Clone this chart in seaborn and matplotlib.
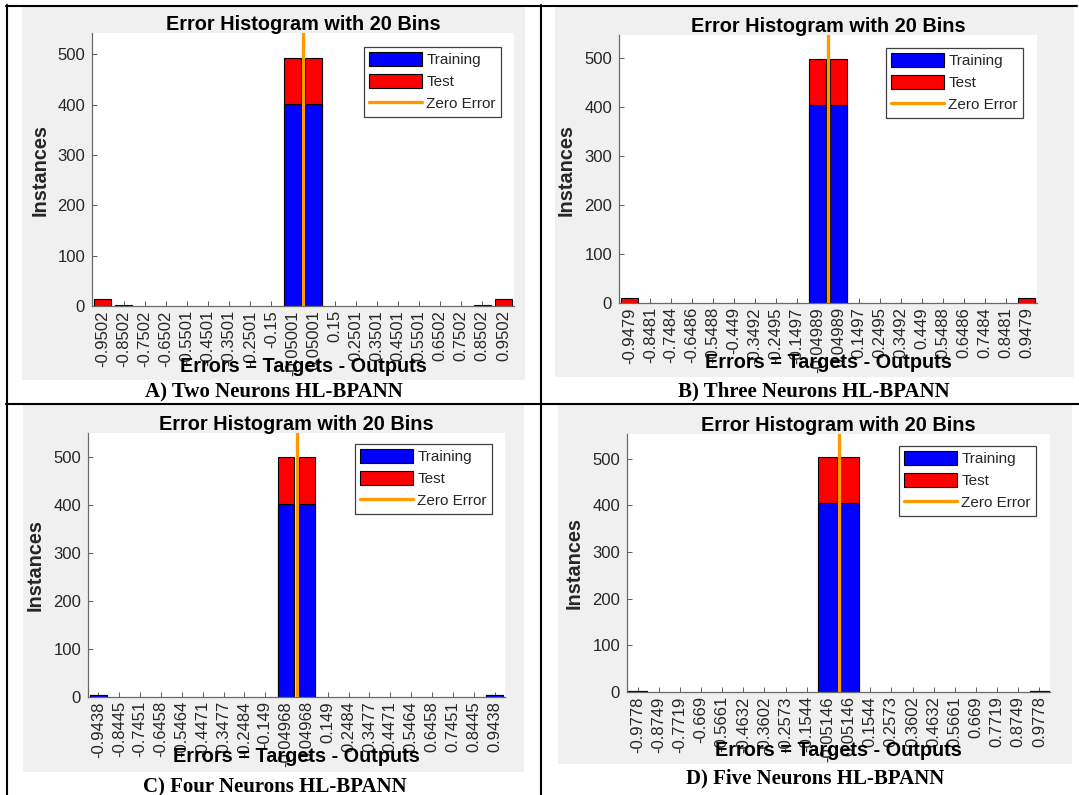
import numpy as np
import pandas as pd
import matplotlib
matplotlib.use("Agg")
import matplotlib.pyplot as plt
import seaborn as sns
from matplotlib.patches import Rectangle, Patch
from matplotlib.lines import Line2D

# ---------------- data ----------------
labels_a = ["-0.9502", "-0.8502", "-0.7502", "-0.6502", "-0.5501", "-0.4501", "-0.3501",
            "-0.2501", "-0.15", "-0.05001", "0.05001", "0.15", "0.2501", "0.3501", "0.4501",
            "0.5501", "0.6502", "0.7502", "0.8502", "0.9502"]
train_a = [0, 0, 0, 0, 0, 0, 0, 0, 0, 402, 402, 0, 0, 0, 0, 0, 0, 0, 0, 0]
test_a = [14, 2, 0, 0, 0, 0, 0, 0, 0, 90, 90, 0, 0, 0, 0, 0, 0, 0, 2, 14]

labels_b = ["-0.9479", "-0.8481", "-0.7484", "-0.6486", "-0.5488", "-0.449", "-0.3492",
            "-0.2495", "-0.1497", "-0.04989", "0.04989", "0.1497", "0.2495", "0.3492", "0.449",
            "0.5488", "0.6486", "0.7484", "0.8481", "0.9479"]
train_b = [0, 0, 0, 0, 0, 0, 0, 0, 0, 404, 404, 0, 0, 0, 0, 0, 0, 0, 0, 0]
test_b = [11, 0, 0, 0, 0, 0, 0, 0, 0, 93, 93, 0, 0, 0, 0, 0, 0, 0, 0, 11]

labels_c = ["-0.9438", "-0.8445", "-0.7451", "-0.6458", "-0.5464", "-0.4471", "-0.3477",
            "-0.2484", "-0.149", "-0.04968", "0.04968", "0.149", "0.2484", "0.3477", "0.4471",
            "0.5464", "0.6458", "0.7451", "0.8445", "0.9438"]
train_c = [5, 0, 0, 0, 0, 0, 0, 0, 0, 403, 403, 0, 0, 0, 0, 0, 0, 0, 0, 5]
test_c = [0, 0, 0, 0, 0, 0, 0, 0, 0, 98, 98, 0, 0, 0, 0, 0, 0, 0, 0, 0]

labels_d = ["-0.9778", "-0.8749", "-0.7719", "-0.669", "-0.5661", "-0.4632", "-0.3602",
            "-0.2573", "-0.1544", "-0.05146", "0.05146", "0.1544", "0.2573", "0.3602", "0.4632",
            "0.5661", "0.669", "0.7719", "0.8749", "0.9778"]
train_d = [2, 0, 0, 0, 0, 0, 0, 0, 0, 405, 405, 0, 0, 0, 0, 0, 0, 0, 0, 2]
test_d = [0, 0, 0, 0, 0, 0, 0, 0, 0, 99, 99, 0, 0, 0, 0, 0, 0, 0, 0, 0]

captions = ["A) Two Neurons HL-BPANN", "B) Three Neurons HL-BPANN",
            "C) Four Neurons HL-BPANN", "D) Five Neurons HL-BPANN"]
title_text = "Error Histogram with 20 Bins"
xlabel_text = "Errors = Targets - Outputs"
ylabel_text = "Instances"
legend_labels = ["Training", "Test", "Zero Error"]
y_ticks = [0, 100, 200, 300, 400, 500]

# ---------------- layout (pixels) ----------------
W, H = 1079, 795
layout = [
    dict(grey=(22, 6, 525, 380), ax=(92, 33, 514, 306), title=(303, 19), xlabel=(303, 367),
         ylabel=(40, 170), legend=(501, 47), caption=(274, 392), ytop=542, width=0.8),
    dict(grey=(555, 6, 1074, 377), ax=(619, 35, 1037, 303), title=(828, 22), xlabel=(828, 363),
         ylabel=(566, 170), legend=(1023, 48), caption=(814, 391), ytop=547, width=0.8),
    dict(grey=(23, 405, 524, 772), ax=(88, 433, 505, 697), title=(296, 419), xlabel=(296, 757),
         ylabel=(35, 565), legend=(492, 444), caption=(275, 787), ytop=550, width=0.8),
    dict(grey=(558, 405, 1072, 764), ax=(627, 434, 1050, 692), title=(838, 419), xlabel=(838, 750),
         ylabel=(574, 563), legend=(1036, 446), caption=(815, 778), ytop=553, width=0.9),
]
datasets = [(labels_a, train_a, test_a), (labels_b, train_b, test_b),
            (labels_c, train_c, test_c), (labels_d, train_d, test_d)]

sns.set_style("white")
plt.rcParams["font.family"] = ["Liberation Sans", "DejaVu Sans"]

fig = plt.figure(figsize=(W / 100, H / 100), dpi=100)
fig.patch.set_facecolor("white")


def fx(x):
    return x / W


def fy(y):
    return 1 - y / H


ORANGE = "#ff9900"
TXT = "#262626"

for lay, (labels, train, test), cap in zip(layout, datasets, captions):
    gx0, gy0, gx1, gy1 = lay["grey"]
    fig.add_artist(Rectangle((fx(gx0), fy(gy1)), (gx1 - gx0) / W, (gy1 - gy0) / H,
                             transform=fig.transFigure, facecolor="#f0f0f0",
                             edgecolor="none", zorder=-5))
    l, t, r, b = lay["ax"]
    ax = fig.add_axes([fx(l), fy(b), (r - l) / W, (b - t) / H])
    ax.set_facecolor("white")

    df = pd.DataFrame({"bin": labels, "Training": train, "Test": test})
    df["Total"] = df["Training"] + df["Test"]
    tot = df[df["Total"] > 0]
    trn = df[df["Training"] > 0]
    sns.barplot(data=tot, x="bin", y="Total", order=labels, color="red", saturation=1,
                edgecolor="black", linewidth=0.8, width=lay["width"], errorbar=None, ax=ax)
    sns.barplot(data=trn, x="bin", y="Training", order=labels, color="blue", saturation=1,
                edgecolor="black", linewidth=0.8, width=lay["width"], errorbar=None, ax=ax)

    centers = np.array([float(s) for s in labels])
    zero_pos = np.interp(0.0, centers, np.arange(len(labels)))
    ax.axvline(zero_pos, color=ORANGE, lw=2.4, zorder=5)

    ax.set_xlim(-0.5, len(labels) - 0.5)
    ax.set_ylim(0, lay["ytop"])
    ax.set_xticks(range(len(labels)))
    ax.set_xticklabels(labels, rotation=90)
    ax.set_yticks(y_ticks)
    ax.set_yticklabels([str(v) for v in y_ticks])
    ax.tick_params(axis="both", direction="in", length=3.5, width=0.6, color="#404040",
                   labelcolor=TXT, labelsize=12)
    ax.tick_params(axis="x", pad=3)
    ax.tick_params(axis="y", pad=5, left=True)
    ax.tick_params(axis="x", bottom=True)
    for s in ["top", "right"]:
        ax.spines[s].set_visible(False)
    for s in ["left", "bottom"]:
        ax.spines[s].set_color("#6a6a6a")
        ax.spines[s].set_linewidth(0.9)

    aw, ah = r - l, b - t
    tx, ty = lay["title"]
    ax.set_title(title_text, fontsize=14.3, fontweight="bold", color="black", va="center")
    ax.title.set_position(((tx - l) / aw, (b - ty) / ah))
    xx, xy = lay["xlabel"]
    ax.set_xlabel(xlabel_text, fontsize=14.3, fontweight="bold", color="black")
    ax.xaxis.set_label_coords((xx - l) / aw, (b - xy) / ah)
    ax.xaxis.label.set_va("center")
    yx, yy = lay["ylabel"]
    ax.set_ylabel(ylabel_text, fontsize=14.3, fontweight="bold", color=TXT)
    ax.yaxis.set_label_coords((yx - l) / aw, (b - yy) / ah)
    ax.yaxis.label.set_va("center")

    handles = [Patch(facecolor="blue", edgecolor="black", lw=0.8),
               Patch(facecolor="red", edgecolor="black", lw=0.8),
               Line2D([0], [0], color=ORANGE, lw=2.4)]
    lx, ly = lay["legend"]
    leg = ax.legend(handles, legend_labels, loc="upper right",
                    bbox_to_anchor=(fx(lx), fy(ly)), bbox_transform=fig.transFigure,
                    frameon=True, fancybox=False, framealpha=1, edgecolor="#404040",
                    borderaxespad=0, handlelength=3.5, handleheight=1.0,
                    labelspacing=0.45, handletextpad=0.25, borderpad=0.35,
                    fontsize=11)
    leg.get_frame().set_linewidth(0.9)
    for txt in leg.get_texts():
        txt.set_color(TXT)

    cx, cy = lay["caption"]
    fig.text(fx(cx), fy(cy), cap, ha="center", va="center", fontsize=15,
             fontweight="bold", family=["Liberation Serif", "DejaVu Serif"], color="black")

# table border lines
lw = 1.5
for (x0, y0, x1, y1) in [(6, 5.5, 1077, 5.5), (7, 5, 7, 795), (541, 5, 541, 795),
                         (6, 404, 1079, 404)]:
    fig.add_artist(Line2D([fx(x0), fx(x1)], [fy(y0), fy(y1)], transform=fig.transFigure,
                          color="black", lw=lw, zorder=10))

fig.savefig("out.png", dpi=100, facecolor="white")
